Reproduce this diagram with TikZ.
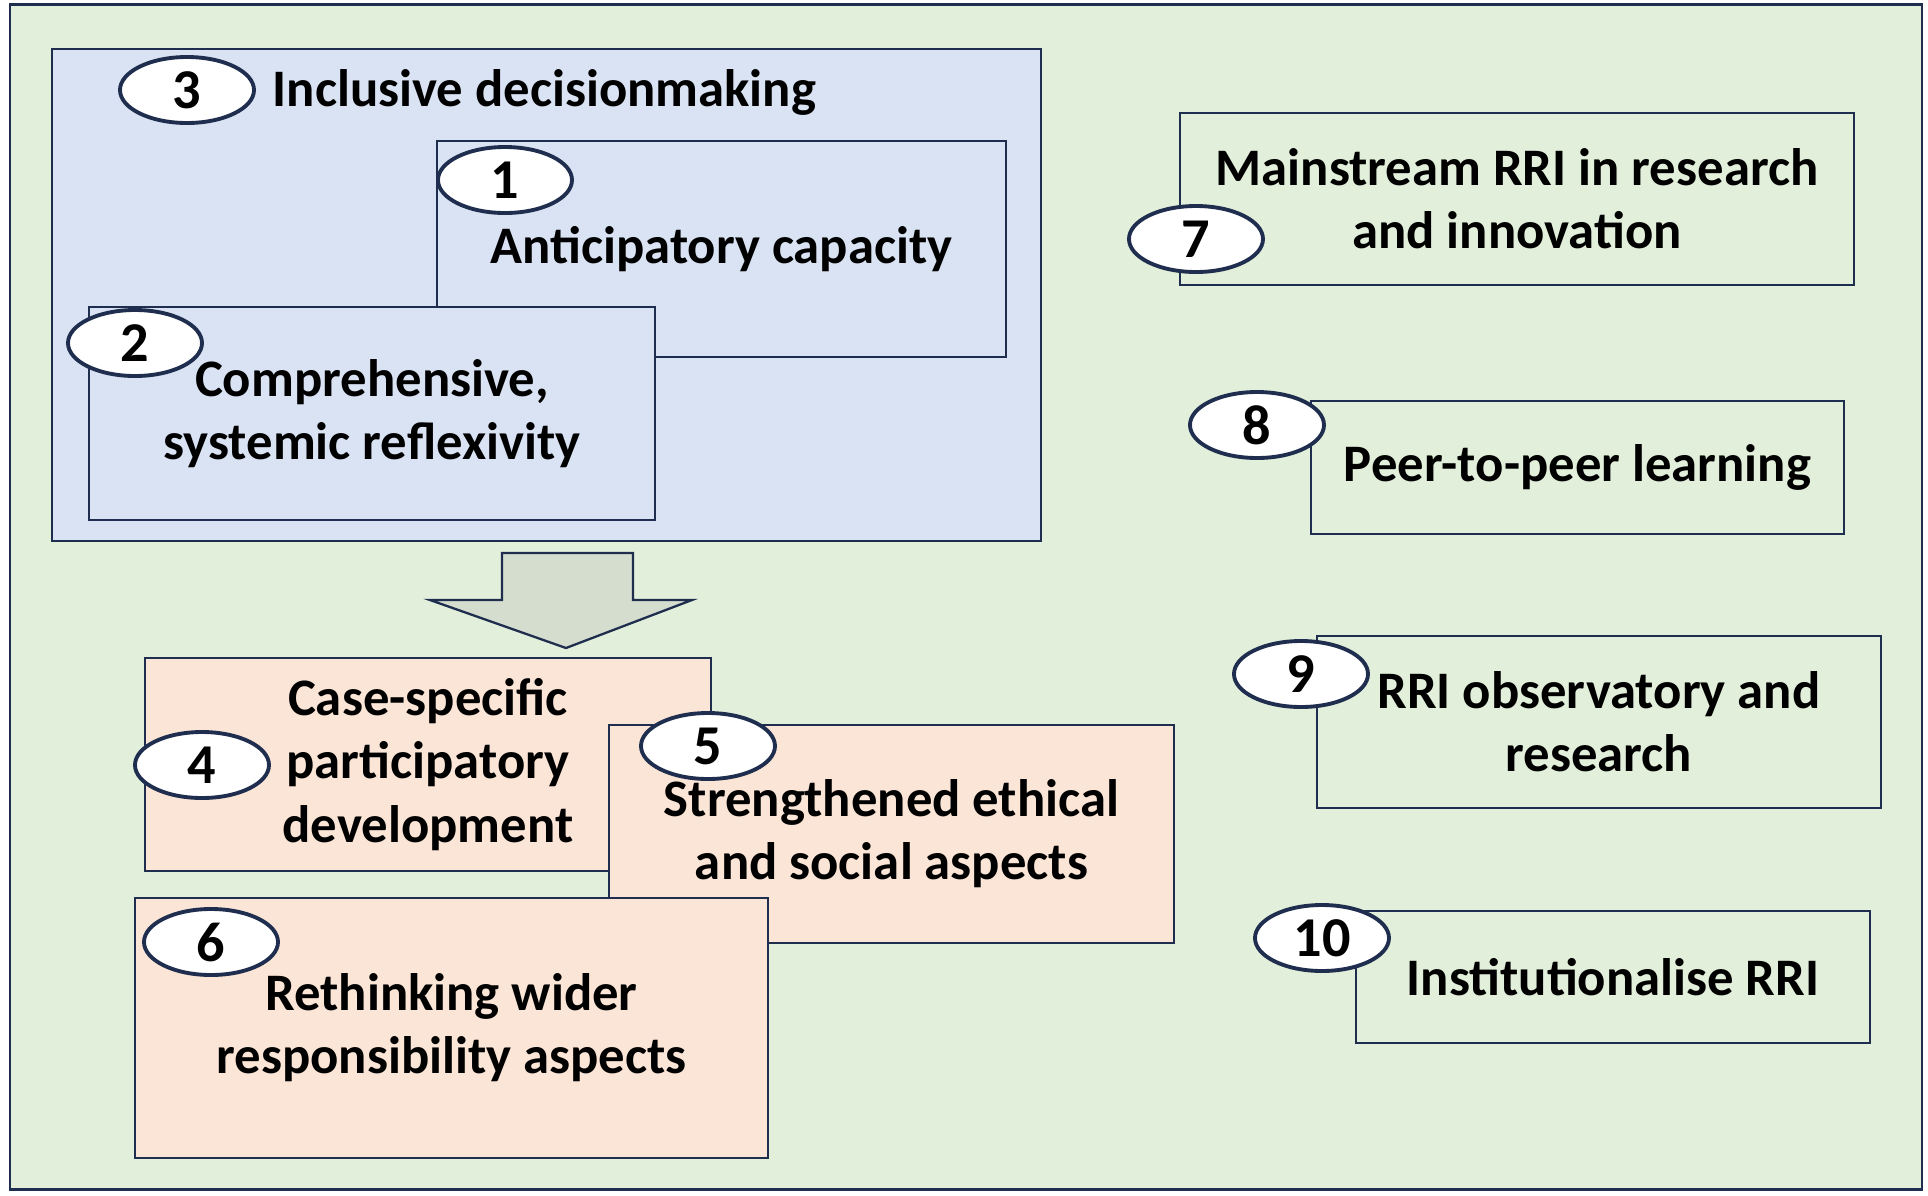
\documentclass[tikz,border=0pt]{standalone}
\usepackage{fontspec}
\setmainfont{Carlito}
\usetikzlibrary{positioning}
\usetikzlibrary{shapes.geometric}
\definecolor{ink}{HTML}{1F2E4F}
\definecolor{outergreen}{HTML}{E2EFDA}
\definecolor{groupblue}{HTML}{DAE3F3}
\definecolor{casepeach}{HTML}{FBE5D6}
\definecolor{arrowgrey}{HTML}{D5DDCE}
\tikzset {
  area box/.style = {
    draw = ink,
    line width = 0.65pt,
    inner sep = 0
  },
  % box holding one measure
  measure/.style = {
    area box,
    align = center,
    font = \fontsize{15pt}{18pt}\selectfont\bfseries
  },
  % numbered oval badge
  badge/.style = {
    draw = ink,
    fill = white,
    ellipse,
    line width = 1.1pt,
    minimum width = 13.4mm,
    minimum height = 6.6mm,
    inner sep = 0,
    font = \fontsize{16pt}{18pt}\selectfont\bfseries
  },
  group label/.style = {
    anchor = west,
    inner sep = 0,
    font = \fontsize{15pt}{18pt}\selectfont\bfseries
  }
}

\begin{document}
\begin{tikzpicture}[x=0.1mm, y=-0.1mm]
    \useasboundingbox (0,0) rectangle (1928,1196);
    \node[area box, fill=outergreen, minimum width=191.2mm, minimum height=118.5mm] (frame) at (966,597) {};

    % governance group
    \node[area box, fill=groupblue, minimum width=98.9mm, minimum height=49.2mm] (incl) at (546.5,295) {};
    \node[measure, fill=groupblue, minimum width=56.9mm, minimum height=21.6mm] (antic) at (721.5,249) {Anticipatory capacity};
    \node[measure, fill=groupblue, minimum width=56.6mm, minimum height=21.3mm] (reflex) at (372,413.5) {Comprehensive,\\systemic reflexivity};
    \node[group label] (incltext) at (272,92) {Inclusive decisionmaking};
    \node[badge] (b3) at (187,90) {3};
    \node[badge] (b1) at (505,180) {1};
    \node[badge] (b2) at (135,343) {2};

    % arrow down to the case level
    \coordinate (arr) at (566,553);
    \draw[draw=ink, fill=arrowgrey, line width=0.65pt]
      (arr) ++(-64,0) -- ++(0,47) -- ++(-72,0) -- (566,648) -- ++(126,-48)
      -- ++(-59,0) -- ++(0,-47) -- cycle;

    % case level
    \node[measure, fill=casepeach, minimum width=56.6mm, minimum height=21.3mm] (casepd) at (428,764.5) {Case-specific\\participatory\\development};
    \node[badge] (b4) at (202,765) {4};
    \node[measure, fill=casepeach, minimum width=56.5mm, minimum height=21.8mm] (ethic) at (891.5,834) {Strengthened ethical\\and social aspects};
    \node[badge] (b5) at (708,746) {5};
    \node[measure, fill=casepeach, minimum width=63.3mm, minimum height=26mm] (wider) at (451.5,1028) {Rethinking wider\\responsibility aspects};
    \node[badge] (b6) at (211,942) {6};

    % system level
    \node[measure, minimum width=67.4mm, minimum height=17.2mm] (mainst) at (1517,199) {Mainstream RRI in research\\and innovation};
    \node[badge] (b7) at (1196,239) {7};
    \node[measure, minimum width=53.3mm, minimum height=13.3mm] (peer) at (1577.5,467.5) {Peer-to-peer learning};
    \node[badge] (b8) at (1257,425) {8};
    \node[measure, minimum width=56.4mm, minimum height=17.2mm] (observ) at (1599,722) {RRI observatory and\\research};
    \node[badge] (b9) at (1301,674) {9};
    \node[measure, minimum width=51.4mm, minimum height=13.2mm] (instit) at (1613,977) {Institutionalise RRI};
    \node[badge] (b10) at (1322,938) {10};
\end{tikzpicture}
\end{document}
